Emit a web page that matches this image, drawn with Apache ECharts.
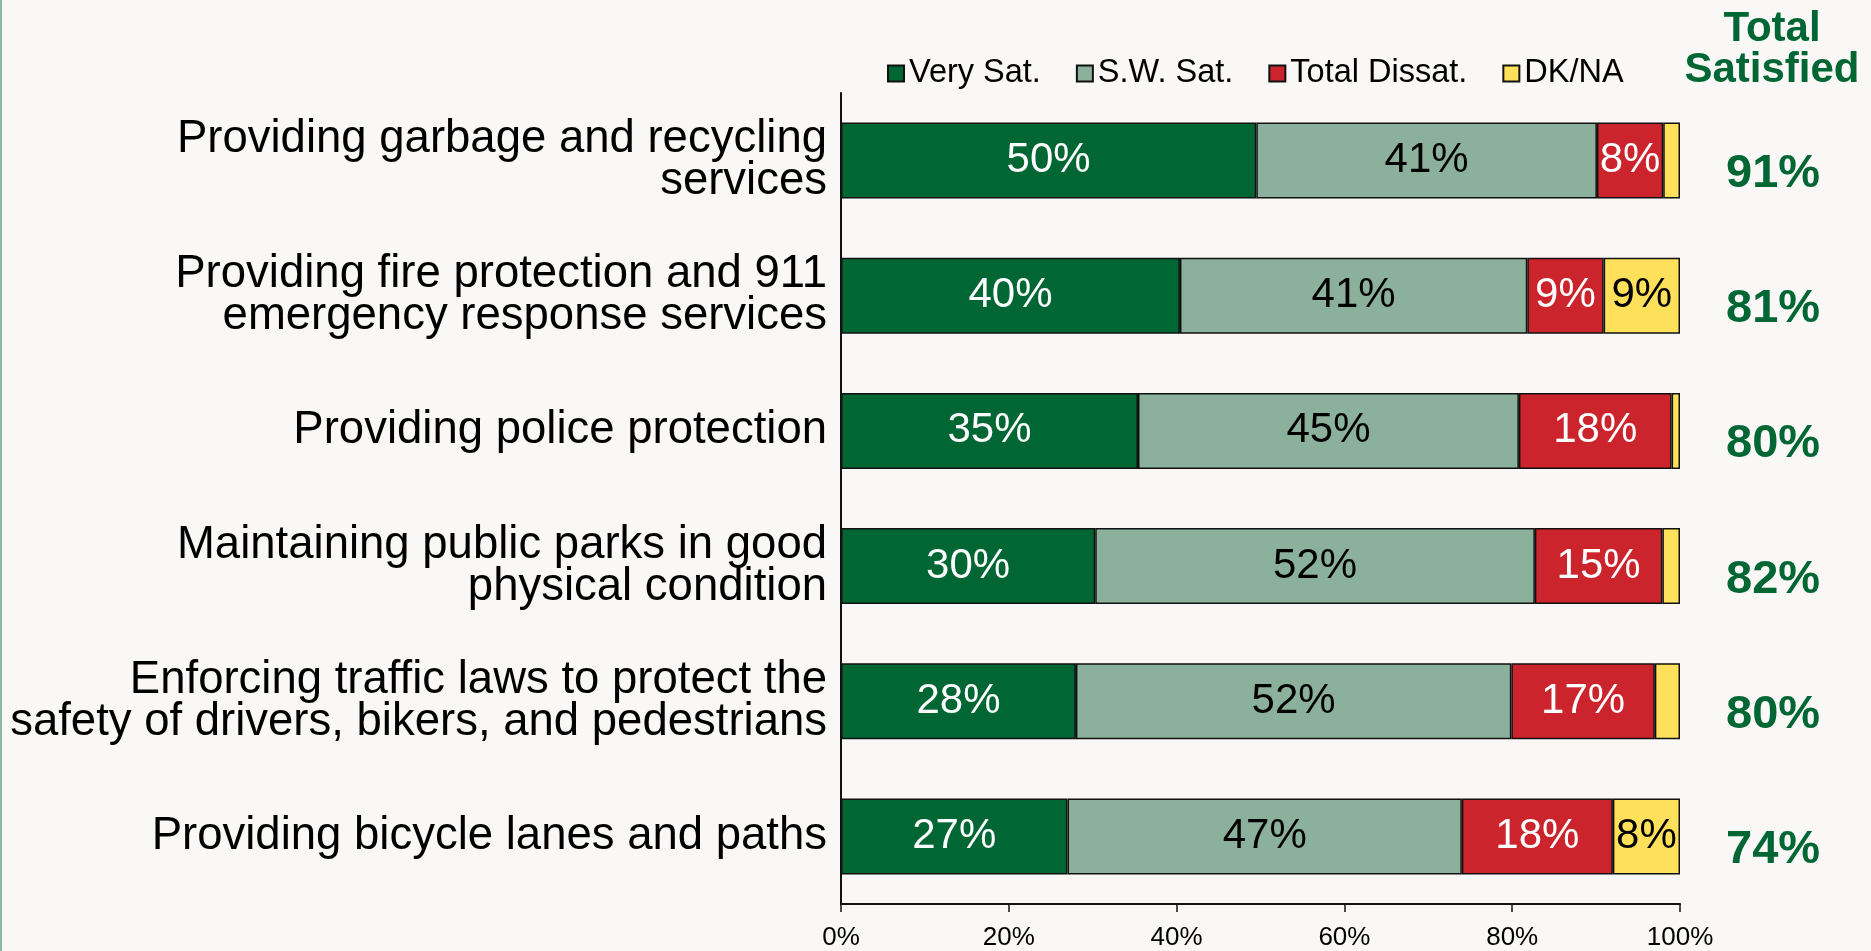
<!DOCTYPE html>
<html>
<head>
<meta charset="utf-8">
<script src="https://cdn.jsdelivr.net/npm/echarts@6/dist/echarts.min.js"></script>
<style>
html,body{margin:0;padding:0;background:#F9F8F6;}
#chart{width:1871px;height:951px;}
</style>
</head>
<body>
<div id="chart"></div>
<script>
const categories = [
  'Providing garbage and recycling\nservices',
  'Providing fire protection and 911\nemergency response services',
  'Providing police protection',
  'Maintaining public parks in good\nphysical condition',
  'Enforcing traffic laws to protect the\nsafety of drivers, bikers, and pedestrians',
  'Providing bicycle lanes and paths'
];
const verySat   = [49.5, 40.4, 35.4, 30.3, 28.0, 27.0];
const swSat     = [40.6, 41.4, 45.4, 52.4, 51.9, 47.0];
const dissat    = [7.9, 9.1, 18.2, 15.2, 17.1, 18.0];
const dkna      = [2.0, 9.1, 1.0, 2.1, 3.0, 8.0];
const totalSatisfied = [91, 81, 80, 82, 80, 74];
const xTicks = [0, 20, 40, 60, 80, 100];

const FONT = '"Liberation Sans", Arial, sans-serif';
const chart = echarts.init(document.getElementById('chart'), null, {renderer: 'canvas'});

function labelFmt(p) { return p.value >= 5 ? Math.round(p.value) + '%' : ''; }

function barSeries(name, data, color, labelColor) {
  return {
    name: name,
    type: 'bar',
    stack: 'total',
    data: data,
    barWidth: 76,
    itemStyle: {color: color, borderColor: '#111', borderWidth: 1.5},
    label: {
      show: true, position: 'inside', formatter: labelFmt,
      color: labelColor, fontSize: 42, fontFamily: FONT
    },
    emphasis: {disabled: true}
  };
}

const option = {
  backgroundColor: '#F9F8F6',
  animation: false,
  title: {
    text: 'Total\nSatisfied',
    left: 1772, top: 9, textAlign: 'center', padding: 0,
    textStyle: {fontSize: 42, fontWeight: 'bold', color: '#006633', fontFamily: FONT, lineHeight: 41, align: 'center'}
  },
  legend: {
    data: ['Very Sat.', 'S.W. Sat.', 'Total Dissat.', 'DK/NA'],
    left: 882, top: 52,
    icon: 'rect', itemWidth: 16, itemHeight: 16, itemGap: 35,
    textStyle: {fontSize: 32.5, color: '#000', fontFamily: FONT}
  },
  grid: {left: 841, right: 191, top: 93, bottom: 44, containLabel: false},
  xAxis: {
    type: 'value', min: 0, max: 100, interval: 20,
    axisLine: {show: true, lineStyle: {color: '#111', width: 2}},
    axisTick: {show: true, length: 8, lineStyle: {color: '#111', width: 1.5}},
    splitLine: {show: false},
    axisLabel: {
      fontSize: 26, color: '#000', fontFamily: FONT, margin: 21,
      formatter: v => (xTicks.indexOf(v) >= 0 ? v + '%' : '')
    }
  },
  yAxis: [
    {
      type: 'category', data: categories, inverse: true,
      axisLine: {show: true, lineStyle: {color: '#111', width: 2}},
      axisTick: {show: false},
      axisLabel: {fontSize: 45.5, lineHeight: 42, color: '#000', fontFamily: FONT, margin: 14, align: 'right'}
    },
    {
      type: 'category', data: totalSatisfied.map(v => v + '%'), inverse: true, position: 'right',
      axisLine: {show: false}, axisTick: {show: false},
      axisLabel: {fontSize: 47, fontWeight: 'bold', color: '#006633', fontFamily: FONT, margin: 46,
                  verticalAlign: 'top', lineHeight: 27}
    }
  ],
  series: [
    barSeries('Very Sat.', verySat, '#006633', '#fff'),
    barSeries('S.W. Sat.', swSat, '#8BB09C', '#000'),
    barSeries('Total Dissat.', dissat, '#CC242D', '#fff'),
    barSeries('DK/NA', dkna, '#FFE05A', '#000')
  ],
  graphic: [
    {type: 'rect', left: 0, top: 0, shape: {width: 2, height: 951}, style: {fill: '#8DB9A0'}, silent: true}
  ]
};
chart.setOption(option);
</script>
</body>
</html>
